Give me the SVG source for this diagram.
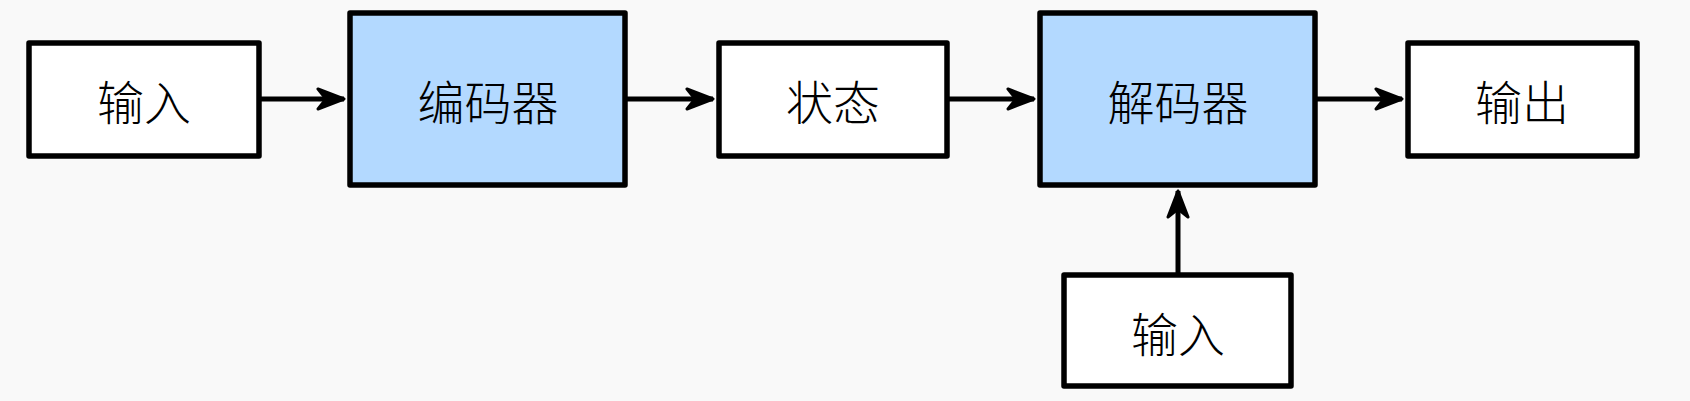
<svg xmlns="http://www.w3.org/2000/svg" width="1690" height="401" viewBox="0 0 1690 401">
<style>
.box{stroke:#000;stroke-width:5.5;stroke-linejoin:round}
.w{fill:#fff}
.b{fill:#b3d9ff}
.t{font-family:"Noto Sans CJK SC","Noto Sans",sans-serif;font-size:47px;font-weight:300;fill:#000;text-anchor:middle;dominant-baseline:central}
.c{stroke:#000;stroke-width:5;fill:none}
</style>
<defs>
<marker id="ah" viewBox="0 0 30 24" refX="28" refY="12" markerWidth="30" markerHeight="24" markerUnits="userSpaceOnUse" orient="auto">
<path d="M2,2 L28,12 L2,22 L10,12 Z" fill="#000" stroke="#000" stroke-width="3" stroke-linejoin="round"/>
</marker>
</defs>
<rect width="1690" height="401" fill="#f9f9f9"/>
<g id="connectors">
<line class="c" x1="259" y1="99" x2="344" y2="99" marker-end="url(#ah)"/>
<line class="c" x1="625" y1="99" x2="713" y2="99" marker-end="url(#ah)"/>
<line class="c" x1="947" y1="99" x2="1034" y2="99" marker-end="url(#ah)"/>
<line class="c" x1="1315" y1="99" x2="1402" y2="99" marker-end="url(#ah)"/>
<line class="c" x1="1178" y1="275" x2="1178" y2="191" marker-end="url(#ah)"/>
</g>
<g id="input1"><rect class="box w" x="29" y="43" width="230" height="113"/><text class="t" x="144" y="99">输入</text></g>
<g id="encoder"><rect class="box b" x="350" y="13" width="275" height="172"/><text class="t" x="488" y="99">编码器</text></g>
<g id="state"><rect class="box w" x="719" y="43" width="228" height="113"/><text class="t" x="833" y="99">状态</text></g>
<g id="decoder"><rect class="box b" x="1040" y="13" width="275" height="172"/><text class="t" x="1178" y="99">解码器</text></g>
<g id="output"><rect class="box w" x="1408" y="43" width="229" height="113"/><text class="t" x="1522" y="99">输出</text></g>
<g id="input2"><rect class="box w" x="1064" y="275" width="227" height="111"/><text class="t" x="1178" y="331">输入</text></g>
</svg>
